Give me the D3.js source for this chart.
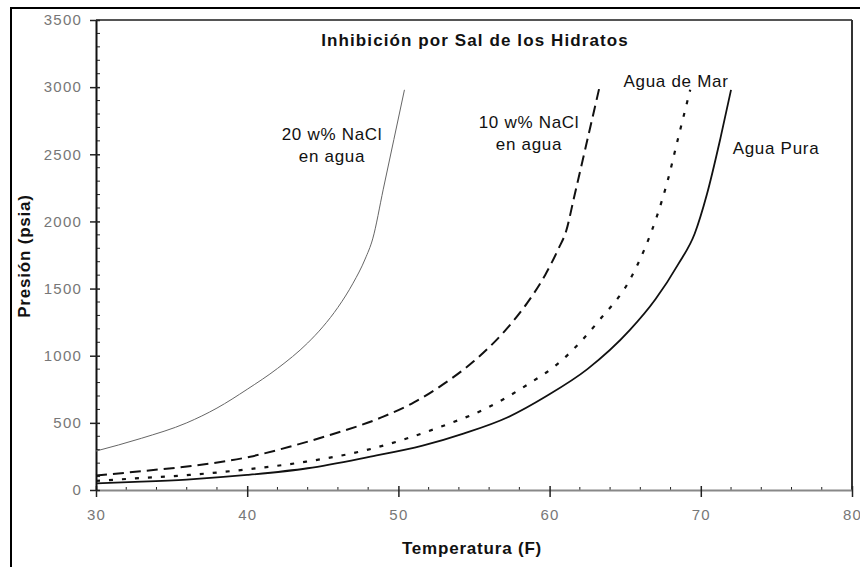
<!DOCTYPE html>
<html>
<head>
<meta charset="utf-8">
<script src="https://cdn.jsdelivr.net/npm/d3@7"></script>
<style>
  body { margin: 0; background: #fff; }
  text { font-family: "Liberation Sans", Arial, sans-serif; }
</style>
</head>
<body>
<div id="chart"></div>
<script>
// Chart data
const tempPura = [30, 33, 36, 40, 44, 48, 51.6, 54.3, 57.2, 59.8, 62.5, 65.3, 67, 68.5, 69.6, 70.4, 71.3, 72];
const presPura = [50, 62, 78, 112, 162, 245, 330, 420, 540, 700, 900, 1190, 1420, 1680, 1910, 2200, 2620, 2980];

const tempMar = [30, 33, 36.2, 40, 43.9, 47.9, 52.8, 55.8, 58.5, 60.7, 63.3, 65.3, 66.3, 67.1, 67.8, 68.5, 69.3];
const presMar = [68, 89, 112, 154, 211, 298, 471, 608, 782, 955, 1266, 1564, 1800, 2040, 2300, 2620, 2980];

const temp10 = [30, 33, 36.3, 40.2, 42.8, 45.1, 49, 51, 53, 55, 57, 58.5, 59.7, 60.6, 61.1, 61.6, 62.4, 63.3];
const pres10 = [108, 140, 179, 248, 322, 397, 546, 650, 790, 960, 1180, 1390, 1600, 1800, 1930, 2170, 2560, 3000];

const temp20 = [30, 33, 36, 38, 40, 42, 44, 45, 46, 47, 47.8, 48.3, 49, 49.7, 50.4];
const pres20 = [290, 385, 500, 610, 750, 905, 1095, 1215, 1360, 1540, 1720, 1870, 2240, 2610, 2980];

const xTicks = [30, 40, 50, 60, 70, 80];
const yTicks = [0, 500, 1000, 1500, 2000, 2500, 3000, 3500];

// Chart Params
const svgWidth = 860;
const svgHeight = 567;
const margin = { top: 20, right: 8, bottom: 77, left: 96 };
const width = svgWidth - margin.left - margin.right;
const height = svgHeight - margin.top - margin.bottom;

const svg = d3.select("#chart")
  .append("svg")
  .attr("width", svgWidth)
  .attr("height", svgHeight);

// outer frame (only top/left visible in the crop)
svg.append("rect")
  .attr("x", 11).attr("y", 8)
  .attr("width", 900).attr("height", 600)
  .attr("fill", "none")
  .attr("stroke", "#000")
  .attr("stroke-width", 2);

const chartGroup = svg.append("g")
  .attr("transform", `translate(${margin.left}, ${margin.top})`);

const xScale = d3.scaleLinear().domain([30, 80]).range([0, width]);
const yScale = d3.scaleLinear().domain([0, 3500]).range([height, 0]);

// plot area border
chartGroup.append("line")
  .attr("x1", 0).attr("x2", width).attr("y1", 0).attr("y2", 0)
  .attr("stroke", "#555").attr("stroke-width", 2);
chartGroup.append("line")
  .attr("x1", width).attr("x2", width).attr("y1", 0).attr("y2", height)
  .attr("stroke", "#333").attr("stroke-width", 2);

// minor ticks
const xMinor = d3.range(30, 80.01, 2).filter(v => v % 10 !== 0);
const yMinor = d3.range(0, 3500.01, 100).filter(v => v % 500 !== 0);

chartGroup.selectAll(".xminor")
  .data(xMinor)
  .enter()
  .append("line")
  .attr("x1", d => xScale(d)).attr("x2", d => xScale(d))
  .attr("y1", height).attr("y2", height - 3)
  .attr("stroke", "#222").attr("stroke-width", 1);

chartGroup.selectAll(".yminor")
  .data(yMinor)
  .enter()
  .append("line")
  .attr("x1", 0).attr("x2", 4)
  .attr("y1", d => yScale(d)).attr("y2", d => yScale(d))
  .attr("stroke", "#222").attr("stroke-width", 1);

// axes
const bottomAxis = d3.axisBottom(xScale).tickValues(xTicks).tickFormat(d3.format("d"))
  .tickSizeInner(7).tickSizeOuter(0).tickPadding(12);
const leftAxis = d3.axisLeft(yScale).tickValues(yTicks).tickFormat(d3.format("d"))
  .tickSizeInner(6).tickSizeOuter(0).tickPadding(8);

const xAxis = chartGroup.append("g")
  .attr("transform", `translate(0, ${height})`)
  .call(bottomAxis);
xAxis.select(".domain").attr("stroke", "#888").attr("stroke-width", 2);
xAxis.selectAll(".tick line").attr("y1", -4).attr("stroke", "#222").attr("stroke-width", 1.5);
xAxis.selectAll(".tick text")
  .attr("fill", "#777").attr("font-size", 15).style("letter-spacing", "1.2px");

const yAxis = chartGroup.append("g").call(leftAxis);
yAxis.select(".domain").attr("stroke", "#111").attr("stroke-width", 2);
yAxis.selectAll(".tick line").attr("x2", 4).attr("x1", -6).attr("stroke", "#222").attr("stroke-width", 1.5);
yAxis.selectAll(".tick text")
  .attr("fill", "#777").attr("font-size", 15).style("letter-spacing", "1.2px");

// curves
const line = d3.line()
  .x(d => xScale(d[0]))
  .y(d => yScale(d[1]))
  .curve(d3.curveMonotoneX);

const series = [
  { t: temp20, p: pres20, stroke: "#666", w: 1, dash: null },
  { t: temp10, p: pres10, stroke: "#111", w: 2, dash: "11,6" },
  { t: tempMar, p: presMar, stroke: "#111", w: 2.2, dash: "4,9" },
  { t: tempPura, p: presPura, stroke: "#111", w: 1.8, dash: null }
];

series.forEach(s => {
  chartGroup.append("path")
    .datum(d3.zip(s.t, s.p))
    .attr("fill", "none")
    .attr("stroke", s.stroke)
    .attr("stroke-width", s.w)
    .attr("stroke-dasharray", s.dash)
    .attr("d", line);
});

// title
svg.append("text")
  .attr("x", 475).attr("y", 46)
  .attr("text-anchor", "middle")
  .attr("font-size", 17).attr("font-weight", "bold")
  .style("letter-spacing", "1.1px")
  .attr("fill", "#111")
  .text("Inhibición por Sal de los Hidratos");

// axis titles
svg.append("text")
  .attr("x", 472).attr("y", 554)
  .attr("text-anchor", "middle")
  .attr("font-size", 17).attr("font-weight", "bold")
  .style("letter-spacing", "0.8px")
  .attr("fill", "#111")
  .text("Temperatura (F)");

svg.append("text")
  .attr("transform", "translate(30, 256) rotate(-90)")
  .attr("text-anchor", "middle")
  .attr("font-size", 17).attr("font-weight", "bold")
  .style("letter-spacing", "0.8px")
  .attr("fill", "#111")
  .text("Presión (psia)");

// curve labels
const labels = [
  { x: 332, y: 140, lines: ["20 w% NaCl", "en agua"] },
  { x: 529, y: 128, lines: ["10 w% NaCl", "en agua"] },
  { x: 676, y: 87, lines: ["Agua de Mar"] },
  { x: 776, y: 154, lines: ["Agua Pura"] }
];

labels.forEach(l => {
  l.lines.forEach((txt, i) => {
    svg.append("text")
      .attr("x", l.x).attr("y", l.y + i * 22)
      .attr("text-anchor", "middle")
      .attr("font-size", 17)
      .style("letter-spacing", "0.7px")
      .attr("fill", "#111")
      .text(txt);
  });
});
</script>
</body>
</html>
